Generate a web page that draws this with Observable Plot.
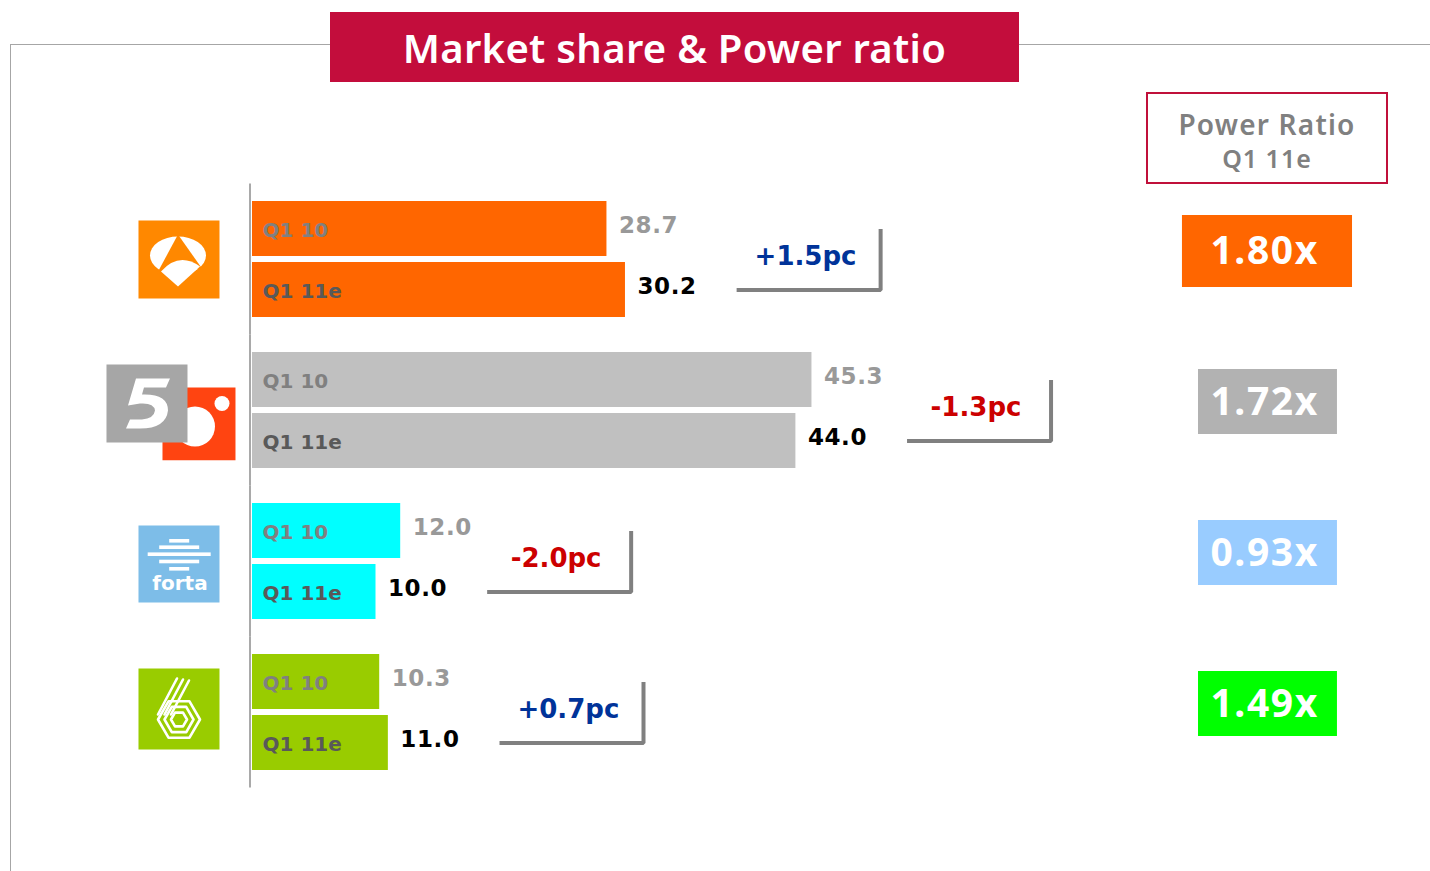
<!DOCTYPE html>
<html>
<head>
<meta charset="utf-8">
<script src="https://cdn.jsdelivr.net/npm/d3@7"></script>
<script src="https://cdn.jsdelivr.net/npm/@observablehq/plot@0.6"></script>
<style>
  body { margin: 0; background: #fff; }
  #wrap { position: relative; width: 1430px; height: 871px; overflow: hidden; font-family: "Noto Sans", sans-serif; }
  #frame { position: absolute; left: 10px; top: 44px; width: 1420px; height: 827px; border-top: 1.5px solid #A6A6A6; border-left: 1.5px solid #A6A6A6; }
  #chart { position: absolute; left: 0; top: 0; }
  #title { position: absolute; left: 330px; top: 12px; width: 689px; height: 70px; background: #C30D3C; color: #fff;
           font-weight: 600; font-size: 40px; line-height: 72px; text-align: center; letter-spacing: 0.3px; }
  #prbox { position: absolute; left: 1146px; top: 92px; width: 238px; height: 88px; border: 2px solid #C0103A; background: #fff;
           text-align: center; color: #808080; font-weight: 600; }
  #prbox .l1 { font-size: 28px; line-height: 34px; padding-top: 13px; letter-spacing: 1.2px; }
  #prbox .l2 { font-size: 25px; line-height: 34px; letter-spacing: 1px; }
</style>
</head>
<body>
<div id="wrap">
  <div id="frame"></div>
  <div id="chart"></div>
  <div id="title">Market share &amp; Power ratio</div>
  <div id="prbox"><div class="l1">Power Ratio</div><div class="l2">Q1 11e</div></div>
</div>
<script>
// ---- data ----
const channels = ["Antena 3", "Telecinco", "Forta", "La Sexta"];
const periods = ["Q1 10", "Q1 11e"];
const shareQ110 = [28.7, 45.3, 12.0, 10.3];
const shareQ111e = [30.2, 44.0, 10.0, 11.0];
const powerRatio = [1.80, 1.72, 0.93, 1.49];
const barColors = ["#FF6600", "#C0C0C0", "#00FFFF", "#99CC00"];
const ratioColors = ["#FF6600", "#B2B2B2", "#99CCFF", "#00FF00"];

// ---- logos (simple drawn SVGs) ----
const svgUri = s => "data:image/svg+xml;charset=utf-8," + encodeURIComponent(
  "<svg xmlns='http://www.w3.org/2000/svg' width='130' height='100' viewBox='0 0 130 100'>" + s + "</svg>");
function hex(cx, cy, r) {
  const p = d3.range(6).map(k => { const a = Math.PI / 3 * k; return (cx + r * Math.cos(a)).toFixed(1) + "," + (cy + r * Math.sin(a)).toFixed(1); });
  return `<polygon points='${p.join(" ")}' fill='none' stroke='#fff' stroke-width='2.6' stroke-linejoin='round'/>`;
}
const logos = [
  svgUri(`<rect x='32.5' y='11' width='81' height='78' fill='#FF8800'/>
    <ellipse cx='72' cy='46' rx='28' ry='19' fill='#fff'/>
    <polygon points='72,25 51,64 96,59' fill='#FF8800'/>
    <path d='M55,62 Q73,42 94,57 L72,77 Z' fill='#fff'/>`),
  svgUri(`<rect x='56.5' y='27' width='73' height='73' fill='#FF4411'/>
    <circle cx='89' cy='66' r='20' fill='#fff'/>
    <circle cx='116' cy='43' r='7.5' fill='#fff'/>
    <rect x='0.5' y='4' width='81' height='78' fill='#A6A6A6'/>
    <path d='M30,18 L64,18 L60,27 L38,27 L36,34 Q62,33 62,50 Q60,68 34,68 L20,68 L24,59 L36,59 Q48,58 49,50 Q48,42 34,43 L22,45 Z' fill='#fff'/>
    <ellipse cx='36' cy='51' rx='7' ry='4' fill='#A6A6A6'/>`),
  svgUri(`<rect x='32.5' y='14' width='81' height='77' fill='#7DBDE8'/>
    <rect x='63.2' y='27.5' width='20' height='3.6' fill='#fff'/>
    <rect x='53.2' y='33.9' width='40' height='3.6' fill='#fff'/>
    <rect x='41.7' y='40.9' width='63' height='3.6' fill='#fff'/>
    <rect x='53.2' y='48.2' width='40' height='3.6' fill='#fff'/>
    <rect x='63.2' y='55.5' width='20' height='3.6' fill='#fff'/>
    <text x='74' y='78' font-family='DejaVu Sans' font-weight='bold' font-size='20' fill='#fff' text-anchor='middle'>forta</text>`),
  svgUri(`<rect x='32.5' y='6' width='81' height='81' fill='#99CC00'/>
    ${hex(73, 57, 21)}${hex(73, 57, 14.5)}${hex(73, 57, 8)}
    <g stroke='#fff' stroke-width='2.6' stroke-linecap='round'>
      <line x1='71' y1='16' x2='52' y2='52'/><line x1='77' y1='17' x2='58.5' y2='52'/><line x1='83' y1='18' x2='65' y2='52'/>
    </g>`)
];

// ---- tables built from the arrays ----
const rows = channels.flatMap((c, i) => [
  {channel: c, period: periods[0], value: shareQ110[i], color: barColors[i]},
  {channel: c, period: periods[1], value: shareQ111e[i], color: barColors[i]}
]);
const groups = channels.map((c, i) => {
  const delta = Math.round((shareQ111e[i] - shareQ110[i]) * 10) / 10;
  return {
    channel: c, q10: shareQ110[i], q11: shareQ111e[i], delta,
    deltaLabel: (delta > 0 ? "+" : "-") + Math.abs(delta).toFixed(1) + "pc",
    ratio: powerRatio[i], ratioColor: ratioColors[i], logo: logos[i]
  };
});
const maxRatio = d3.max(powerRatio);

// ---- layout (in x-scale units) ----
const GAP = 9.0, BW = 11.66;           // change bracket: gap after Q1 11e bar, width
const LOGO_X = -6.6;                    // logo column
const RATIO = {x1: 76.6, x2: 87.85}, RATIO_BIG = {x1: 75.3, x2: 89.07};
const RATIO_C = 82.2;

const bracket = groups.flatMap(g => {
  const x0 = g.q11 + GAP, x1 = x0 + BW;
  return [
    {channel: g.channel, x: x0, y: periods[1]},
    {channel: g.channel, x: x1, y: periods[1]},
    {channel: g.channel, x: x1, y: periods[0]}
  ];
});

const chart = Plot.plot({
  width: 1430,
  height: 871,
  marginTop: 201,
  marginBottom: 101,
  marginLeft: 0,
  marginRight: 0,
  style: {background: "transparent", overflow: "visible"},
  x: {domain: [0, 100], range: [252, 1487], axis: null},
  y: {domain: periods, axis: null, paddingInner: 0.1, paddingOuter: 0},
  fy: {domain: channels, axis: null, paddingInner: 0.232, paddingOuter: 0},
  color: {type: "identity"},
  marks: [
    Plot.ruleX(groups, {x: () => 0, fy: "channel", dx: -2.5, insetTop: -17.5, insetBottom: -17.5, stroke: "#8C8C8C", strokeWidth: 1.5}),
    Plot.barX(rows, {x: "value", y: "period", fy: "channel", fill: "color"}),
    Plot.text(rows, {x: () => 0, y: "period", fy: "channel", text: "period", textAnchor: "start", dx: 10, dy: 2,
      fill: d => d.period === periods[0] ? "#808080" : "#595959",
      fontFamily: "DejaVu Sans", fontWeight: "bold", fontSize: 20}),
    Plot.text(rows, {x: "value", y: "period", fy: "channel", text: d => d.value.toFixed(1), textAnchor: "start", dx: 12, dy: -3,
      fill: d => d.period === periods[0] ? "#999999" : "#000000",
      fontFamily: "DejaVu Sans", fontWeight: "bold", fontSize: 23}),
    Plot.line(bracket, {x: "x", y: "y", z: "channel", fy: "channel", stroke: "#808080", strokeWidth: 4,
      strokeLinejoin: "miter", strokeLinecap: "butt"}),
    Plot.text(groups, {x: g => g.q11 + GAP + (BW - 0.5) / 2, fy: "channel", text: "deltaLabel", dy: -3,
      fill: g => g.delta >= 0 ? "#003399" : "#CC0000",
      fontFamily: "DejaVu Sans", fontWeight: "bold", fontSize: 26}),
    Plot.rect(groups.filter(g => g.ratio === maxRatio), {x1: () => RATIO_BIG.x1, x2: () => RATIO_BIG.x2, fy: "channel",
      fill: "ratioColor", insetTop: 14, insetBottom: 30}),
    Plot.rect(groups.filter(g => g.ratio !== maxRatio), {x1: () => RATIO.x1, x2: () => RATIO.x2, fy: "channel",
      fill: "ratioColor", insetTop: 17, insetBottom: 34}),
    Plot.text(groups, {x: () => RATIO_C, fy: "channel", text: g => g.ratio.toFixed(2) + "x", dy: -8, dx: -3,
      fill: "#ffffff", fontFamily: "Noto Sans", fontWeight: "bold", fontSize: 39}),
    Plot.image(groups, {x: () => LOGO_X, fy: "channel", src: "logo", width: 130, height: 100})
  ]
});
// letter spacing for the ratio labels and share values
d3.select(chart).selectAll("text")
  .filter(function() { return /^\d\.\d\dx$/.test(this.textContent); })
  .style("letter-spacing", "1.6px");
d3.select(chart).selectAll("text")
  .filter(function() { return /^\d+\.\d$/.test(this.textContent); })
  .style("letter-spacing", "0.6px");
document.getElementById("chart").appendChild(chart);
</script>
</body>
</html>
